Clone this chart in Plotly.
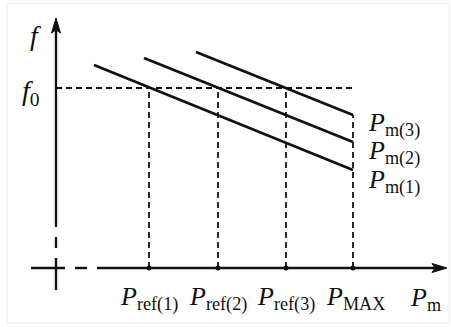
import plotly.graph_objects as go

# Operating points on the P axis and the common reference frequency
P_REF = [0.93, 1.62, 2.30]
P_MAX = 2.97
F0 = 1.80

# Droop characteristics: start point of each line, all ending at P_MAX
P_START = [0.38, 0.88, 1.40]
F_START = [2.03, 2.10, 2.16]
F_END = [0.98, 1.26, 1.53]

LINE_LABELS = ["m(1)", "m(2)", "m(3)"]
REF_LABELS = ["ref(1)", "ref(2)", "ref(3)"]

FONT = "Liberation Serif"
INK = "#111111"

fig = go.Figure()

# droop lines
for ps, fs, fe in zip(P_START, F_START, F_END):
    fig.add_trace(go.Scatter(x=[ps, P_MAX], y=[fs, fe], mode="lines",
                             line=dict(color=INK, width=2.8), hoverinfo="skip"))

# horizontal f0 guide
fig.add_trace(go.Scatter(x=[0, P_MAX], y=[F0, F0], mode="lines",
                         line=dict(color=INK, width=1.8, dash="6px,4px"), hoverinfo="skip"))

# vertical guides from the P axis up to f0 / top line end
for p in P_REF:
    fig.add_trace(go.Scatter(x=[p, p], y=[0, F0], mode="lines",
                             line=dict(color=INK, width=1.8, dash="6px,4px"), hoverinfo="skip"))
fig.add_trace(go.Scatter(x=[P_MAX, P_MAX], y=[0, max(F_END)], mode="lines",
                         line=dict(color=INK, width=1.8, dash="6px,4px"), hoverinfo="skip"))

# dots on the P axis
fig.add_trace(go.Scatter(x=P_REF + [P_MAX], y=[0] * 4, mode="markers",
                         marker=dict(color=INK, size=5), hoverinfo="skip"))

shapes = []
axis_line = dict(color=INK, width=2.4)
# broken horizontal axis
for x0, x1 in [(-0.25, 0.09), (0.19, 0.31), (0.41, 3.80)]:
    shapes.append(dict(type="line", x0=x0, x1=x1, y0=0, y1=0, line=axis_line))
# broken vertical axis
for y0, y1 in [(-0.22, 0.10), (0.20, 0.31), (0.41, 2.40)]:
    shapes.append(dict(type="line", x0=0, x1=0, y0=y0, y1=y1, line=axis_line))
# arrow heads
shapes.append(dict(type="path", path="M 3.91 0 L 3.76 0.045 L 3.79 0 L 3.76 -0.045 Z",
                   fillcolor=INK, line=dict(color=INK, width=1)))
shapes.append(dict(type="path", path="M 0 2.50 L -0.045 2.35 L 0 2.38 L 0.045 2.35 Z",
                   fillcolor=INK, line=dict(color=INK, width=1)))
# faint page frame
shapes.append(dict(type="rect", xref="paper", yref="paper", x0=0.016, x1=0.996,
                   y0=0.012, y1=0.99, line=dict(color="#ececec", width=1)))

annotations = []
txt = dict(family=FONT, size=26, color=INK)
# line labels
for lab, fe, dy in zip(LINE_LABELS, F_END, [0.11, 0.10, 0.09]):
    annotations.append(dict(x=3.10, y=fe - dy, text="<i>P</i><sub>%s</sub>" % lab,
                            showarrow=False, xanchor="left", yanchor="middle", font=txt))
# P axis labels
for p, lab in zip(P_REF, REF_LABELS):
    annotations.append(dict(x=p, y=-0.30, text="<i>P</i><sub>%s</sub>" % lab,
                            showarrow=False, xanchor="center", yanchor="middle", font=txt))
annotations.append(dict(x=P_MAX + 0.02, y=-0.30, text="<i>P</i><sub>MAX</sub>",
                        showarrow=False, xanchor="center", yanchor="middle", font=txt))
annotations.append(dict(x=3.69, y=-0.31, text="<i>P</i><sub>m</sub>",
                        showarrow=False, xanchor="center", yanchor="middle", font=txt))
# frequency labels
annotations.append(dict(x=-0.21, y=2.33, text="<i>f</i>", showarrow=False,
                        xanchor="center", yanchor="middle", font=dict(family=FONT, size=28, color=INK)))
annotations.append(dict(x=-0.25, y=1.76, text="<i>f</i><sub>0</sub>", showarrow=False,
                        xanchor="center", yanchor="middle", font=dict(family=FONT, size=28, color=INK)))

fig.update_layout(
    width=451, height=327,
    margin=dict(l=0, r=0, t=0, b=0, pad=0),
    paper_bgcolor="white", plot_bgcolor="white",
    showlegend=False,
    xaxis=dict(range=[-0.56, 3.95], visible=False, fixedrange=True),
    yaxis=dict(range=[-0.59, 2.68], visible=False, fixedrange=True),
    shapes=shapes, annotations=annotations,
)

fig.write_html("out.html")
